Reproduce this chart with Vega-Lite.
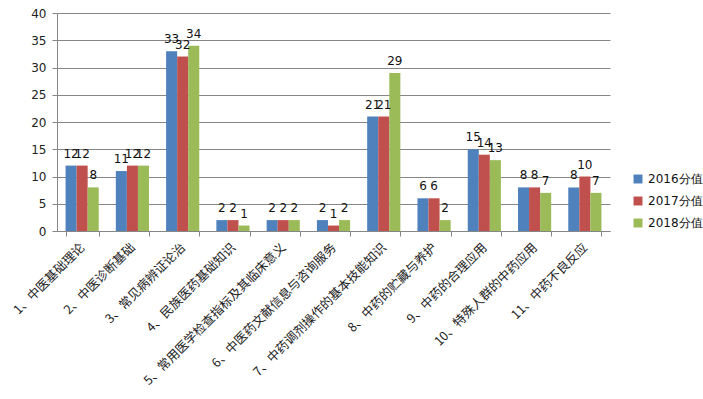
{
  "$schema": "https://vega.github.io/schema/vega-lite/v6.json",
  "width": 553,
  "height": 218,
  "autosize": {"type": "none"},
  "padding": {"left": 57, "top": 13, "right": 93, "bottom": 168},
  "background": "white",
  "config": {"view": {"stroke": null}, "font": "Liberation Sans"},
  "data": {"values": [
    {"cat": "1、中医基础理论", "year": "2016分值", "v": 12},
    {"cat": "1、中医基础理论", "year": "2017分值", "v": 12},
    {"cat": "1、中医基础理论", "year": "2018分值", "v": 8},
    {"cat": "2、中医诊断基础", "year": "2016分值", "v": 11},
    {"cat": "2、中医诊断基础", "year": "2017分值", "v": 12},
    {"cat": "2、中医诊断基础", "year": "2018分值", "v": 12},
    {"cat": "3、常见病辨证论治", "year": "2016分值", "v": 33},
    {"cat": "3、常见病辨证论治", "year": "2017分值", "v": 32},
    {"cat": "3、常见病辨证论治", "year": "2018分值", "v": 34},
    {"cat": "4、民族医药基础知识", "year": "2016分值", "v": 2},
    {"cat": "4、民族医药基础知识", "year": "2017分值", "v": 2},
    {"cat": "4、民族医药基础知识", "year": "2018分值", "v": 1},
    {"cat": "5、常用医学检查指标及其临床意义", "year": "2016分值", "v": 2},
    {"cat": "5、常用医学检查指标及其临床意义", "year": "2017分值", "v": 2},
    {"cat": "5、常用医学检查指标及其临床意义", "year": "2018分值", "v": 2},
    {"cat": "6、中医药文献信息与咨询服务", "year": "2016分值", "v": 2},
    {"cat": "6、中医药文献信息与咨询服务", "year": "2017分值", "v": 1},
    {"cat": "6、中医药文献信息与咨询服务", "year": "2018分值", "v": 2},
    {"cat": "7、中药调剂操作的基本技能知识", "year": "2016分值", "v": 21},
    {"cat": "7、中药调剂操作的基本技能知识", "year": "2017分值", "v": 21},
    {"cat": "7、中药调剂操作的基本技能知识", "year": "2018分值", "v": 29},
    {"cat": "8、中药的贮藏与养护", "year": "2016分值", "v": 6},
    {"cat": "8、中药的贮藏与养护", "year": "2017分值", "v": 6},
    {"cat": "8、中药的贮藏与养护", "year": "2018分值", "v": 2},
    {"cat": "9、中药的合理应用", "year": "2016分值", "v": 15},
    {"cat": "9、中药的合理应用", "year": "2017分值", "v": 14},
    {"cat": "9、中药的合理应用", "year": "2018分值", "v": 13},
    {"cat": "10、特殊人群的中药应用", "year": "2016分值", "v": 8},
    {"cat": "10、特殊人群的中药应用", "year": "2017分值", "v": 8},
    {"cat": "10、特殊人群的中药应用", "year": "2018分值", "v": 7},
    {"cat": "11、中药不良反应", "year": "2016分值", "v": 8},
    {"cat": "11、中药不良反应", "year": "2017分值", "v": 10},
    {"cat": "11、中药不良反应", "year": "2018分值", "v": 7}
  ]},
  "encoding": {
    "x": {
      "field": "cat", "type": "nominal", "sort": null,
      "scale": {"paddingInner": 0.34, "paddingOuter": 0.17},
      "axis": {
        "title": null, "labelAngle": -45, "labelAlign": "right", "labelBaseline": "middle",
        "labelFont": "Noto Sans CJK SC", "labelFontSize": 12.5, "labelColor": "#222",
        "labelPadding": 9, "tickBand": "extent", "tickSize": 5, "tickColor": "#868686",
        "domainColor": "#868686", "labelLimit": 300, "labelOverlap": false
      }
    },
    "xOffset": {"field": "year", "type": "nominal"},
    "y": {
      "field": "v", "type": "quantitative",
      "scale": {"domain": [0, 40], "nice": false},
      "axis": {
        "title": null, "values": [0, 5, 10, 15, 20, 25, 30, 35, 40],
        "gridColor": "#868686", "domain": true, "domainColor": "#868686",
        "tickColor": "#868686", "tickSize": 5, "labelFontSize": 12, "labelColor": "#222",
        "labelFont": "DejaVu Sans", "labelPadding": 6
      }
    }
  },
  "layer": [
    {
      "mark": {"type": "bar"},
      "encoding": {
        "color": {
          "field": "year", "type": "nominal",
          "scale": {"range": ["#4F81BD", "#C0504D", "#9BBB59"]},
          "legend": {
            "title": null, "orient": "none", "legendX": 575, "legendY": 160,
            "symbolType": "square", "symbolSize": 80, "rowPadding": 10,
            "labelFont": "DejaVu Sans", "labelFontSize": 12, "labelColor": "#111", "symbolStrokeWidth": 0
          }
        }
      }
    },
    {
      "mark": {"type": "text", "baseline": "bottom", "dy": -5, "fontSize": 12, "font": "DejaVu Sans", "color": "#111"},
      "encoding": {"text": {"field": "v", "type": "quantitative"}}
    }
  ]
}
